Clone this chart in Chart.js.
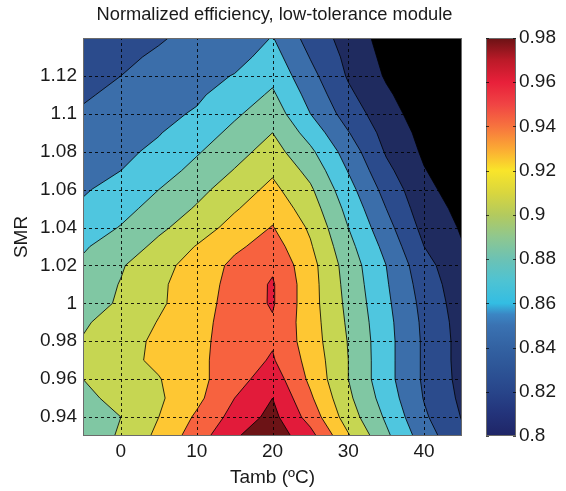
<!DOCTYPE html>
<html>
<head>
<meta charset="utf-8">
<script src="https://cdn.jsdelivr.net/npm/chart.js@4.4.1/dist/chart.umd.min.js"></script>
<style>
  html, body { margin: 0; padding: 0; background: #fff; }
  #wrap { width: 566px; height: 491px; }
</style>
</head>
<body>
<div id="wrap"><canvas id="effChart"></canvas></div>
<script>
// grid of the measurements: Tamb columns, SMR rows
const tambValues = [-5, 0, 5, 10, 15, 20, 25, 30, 35, 40, 45];
const smrValues = [0.93, 0.94, 0.95, 0.96, 0.97, 0.98, 0.99, 1.00, 1.01, 1.02, 1.03,
                   1.04, 1.05, 1.06, 1.07, 1.08, 1.09, 1.10, 1.11, 1.12, 1.13, 1.14];

// normalized efficiency, one row per SMR value (same order as smrValues)
const effRows = [
  [0.890, 0.902, 0.925, 0.950, 0.978, 0.992, 0.967, 0.922, 0.884, 0.850, 0.823], // 0.93
  [0.893, 0.900, 0.920, 0.943, 0.967, 0.986, 0.952, 0.910, 0.877, 0.843, 0.819], // 0.94
  [0.896, 0.905, 0.917, 0.935, 0.960, 0.980, 0.943, 0.904, 0.871, 0.839, 0.816], // 0.95
  [0.900, 0.910, 0.919, 0.934, 0.952, 0.971, 0.936, 0.900, 0.867, 0.837, 0.814], // 0.96
  [0.904, 0.914, 0.924, 0.935, 0.950, 0.962, 0.933, 0.900, 0.867, 0.837, 0.813], // 0.97
  [0.901, 0.912, 0.924, 0.934, 0.950, 0.958, 0.930, 0.899, 0.867, 0.837, 0.813], // 0.98
  [0.898, 0.907, 0.921, 0.933, 0.949, 0.958, 0.929, 0.897, 0.866, 0.836, 0.812], // 0.99
  [0.893, 0.902, 0.917, 0.931, 0.948, 0.962, 0.928, 0.895, 0.864, 0.834, 0.810], // 1.00
  [0.888, 0.901, 0.917, 0.929, 0.947, 0.962, 0.928, 0.893, 0.862, 0.831, 0.808], // 1.01
  [0.883, 0.898, 0.915, 0.926, 0.945, 0.957, 0.927, 0.891, 0.860, 0.827, 0.805], // 1.02
  [0.878, 0.889, 0.905, 0.921, 0.936, 0.949, 0.922, 0.886, 0.854, 0.820, 0.801], // 1.03
  [0.870, 0.881, 0.896, 0.910, 0.927, 0.941, 0.917, 0.880, 0.847, 0.814, 0.798], // 1.04
  [0.863, 0.874, 0.887, 0.902, 0.918, 0.933, 0.910, 0.874, 0.840, 0.809, 0.795], // 1.05
  [0.858, 0.867, 0.880, 0.894, 0.910, 0.925, 0.903, 0.867, 0.833, 0.805, 0.791], // 1.06
  [0.854, 0.860, 0.871, 0.886, 0.901, 0.917, 0.894, 0.859, 0.825, 0.801, 0.787], // 1.07
  [0.850, 0.856, 0.864, 0.878, 0.893, 0.908, 0.884, 0.851, 0.818, 0.797, 0.783], // 1.08
  [0.846, 0.852, 0.859, 0.870, 0.885, 0.900, 0.872, 0.841, 0.813, 0.794, 0.780], // 1.09
  [0.842, 0.848, 0.855, 0.862, 0.877, 0.891, 0.860, 0.831, 0.808, 0.790, 0.777], // 1.10
  [0.838, 0.844, 0.851, 0.857, 0.869, 0.883, 0.853, 0.824, 0.803, 0.787, 0.774], // 1.11
  [0.834, 0.840, 0.847, 0.853, 0.861, 0.875, 0.846, 0.818, 0.798, 0.785, 0.771], // 1.12
  [0.830, 0.836, 0.843, 0.850, 0.853, 0.868, 0.839, 0.815, 0.795, 0.782, 0.768], // 1.13
  [0.826, 0.832, 0.838, 0.846, 0.846, 0.861, 0.832, 0.812, 0.792, 0.780, 0.765]  // 1.14
];

const contourLevels = [0.80, 0.82, 0.84, 0.86, 0.88, 0.90, 0.92, 0.94, 0.96, 0.98];
const xTicks = [0, 10, 20, 30, 40];
const yTicks = [0.94, 0.96, 0.98, 1.00, 1.02, 1.04, 1.06, 1.08, 1.10, 1.12];
const cbTicks = [0.80, 0.82, 0.84, 0.86, 0.88, 0.90, 0.92, 0.94, 0.96, 0.98];

// fill colour below the first level, then one per level
const bandColors = ['#000000', '#1f2b5f', '#2b4b8c', '#3b6eaa', '#4fc6df', '#80c7a3',
                    '#c6d652', '#fec733', '#f7623f', '#e21b3a', '#6c1316'];
const cbStops = [
  [0.80, '#1f2566'], [0.81, '#23337a'], [0.82, '#28458a'], [0.83, '#2d5496'],
  [0.84, '#3362a2'], [0.85, '#3a72b2'], [0.855, '#3b86c4'], [0.86, '#33bde3'],
  [0.87, '#4ec3d3'], [0.88, '#6cc2b4'], [0.89, '#8fc78f'], [0.90, '#b3ca5e'],
  [0.91, '#d9d63e'], [0.92, '#f9e52a'], [0.93, '#fba934'], [0.94, '#f7733e'],
  [0.95, '#f04444'], [0.96, '#e8203a'], [0.97, '#bb1a28'], [0.98, '#6a1214']
];

const FONT = "'Liberation Sans', Arial, sans-serif";
const TEXT = '#1a1a1a';

function fmt(v) {
  return String(+v.toFixed(2));
}

// part of one grid cell where value >= lev (corners walked in order)
function clipCell(pts, vals, lev) {
  const out = [];
  for (let i = 0; i < 4; i++) {
    const j = (i + 1) % 4;
    const a = vals[i] >= lev;
    const b = vals[j] >= lev;
    if (a) out.push({ x: pts[i][0], y: pts[i][1], cross: false });
    if (a !== b) {
      const t = (lev - vals[i]) / (vals[j] - vals[i]);
      out.push({
        x: pts[i][0] + t * (pts[j][0] - pts[i][0]),
        y: pts[i][1] + t * (pts[j][1] - pts[i][1]),
        cross: true
      });
    }
  }
  return out;
}

const contourPlugin = {
  id: 'contourPlugin',
  beforeDatasetsDraw(chart) {
    const { ctx, chartArea: area, scales } = chart;
    const px = tambValues.map(t => scales.x.getPixelForValue(t));
    const py = smrValues.map(s => scales.y.getPixelForValue(s));

    ctx.save();
    ctx.beginPath();
    ctx.rect(area.left, area.top, area.right - area.left, area.bottom - area.top);
    ctx.clip();
    ctx.fillStyle = bandColors[0];
    ctx.fillRect(area.left, area.top, area.right - area.left, area.bottom - area.top);

    const lines = new Path2D();
    contourLevels.forEach((lev, k) => {
      const fill = new Path2D();
      for (let i = 0; i < smrValues.length - 1; i++) {
        for (let j = 0; j < tambValues.length - 1; j++) {
          const pts = [[px[j], py[i]], [px[j + 1], py[i]], [px[j + 1], py[i + 1]], [px[j], py[i + 1]]];
          const vals = [effRows[i][j], effRows[i][j + 1], effRows[i + 1][j + 1], effRows[i + 1][j]];
          const poly = clipCell(pts, vals, lev);
          if (poly.length < 3) continue;
          fill.moveTo(poly[0].x, poly[0].y);
          for (let n = 1; n < poly.length; n++) fill.lineTo(poly[n].x, poly[n].y);
          fill.closePath();
          for (let n = 0; n < poly.length; n++) {
            const p = poly[n], q = poly[(n + 1) % poly.length];
            if (p.cross && q.cross) {
              lines.moveTo(p.x, p.y);
              lines.lineTo(q.x, q.y);
            }
          }
        }
      }
      ctx.fillStyle = bandColors[k + 1];
      ctx.fill(fill);
    });
    ctx.strokeStyle = 'rgba(0,0,0,0.9)';
    ctx.lineWidth = 0.9;
    ctx.stroke(lines);

    // dashed grid on top of the fill
    ctx.strokeStyle = 'rgba(0,0,0,0.85)';
    ctx.lineWidth = 1;
    ctx.setLineDash([3, 3]);
    scales.x.ticks.forEach(t => {
      const x = Math.round(scales.x.getPixelForValue(t.value)) + 0.5;
      ctx.beginPath();
      ctx.moveTo(x, area.bottom);
      ctx.lineTo(x, area.top);
      ctx.stroke();
    });
    scales.y.ticks.forEach(t => {
      const y = Math.round(scales.y.getPixelForValue(t.value)) + 0.5;
      ctx.beginPath();
      ctx.moveTo(area.left, y);
      ctx.lineTo(area.right, y);
      ctx.stroke();
    });
    ctx.restore();

    // axes box
    ctx.save();
    ctx.strokeStyle = '#6b6b6b';
    ctx.lineWidth = 1;
    ctx.strokeRect(area.left + 0.5, area.top + 0.5, area.right - area.left - 1, area.bottom - area.top - 1);
    ctx.restore();

    // colour bar
    const cb = scales.cb;
    const barL = area.right + 24;
    const barW = 30;
    const yTop = cb.getPixelForValue(0.98);
    const yBot = cb.getPixelForValue(0.80);
    const grad = ctx.createLinearGradient(0, yBot, 0, yTop);
    cbStops.forEach(([v, c]) => grad.addColorStop((v - 0.80) / 0.18, c));
    ctx.save();
    ctx.fillStyle = grad;
    ctx.fillRect(barL, yTop, barW, yBot - yTop);
    ctx.strokeStyle = '#6b6b6b';
    ctx.lineWidth = 1;
    ctx.strokeRect(barL + 0.5, yTop + 0.5, barW - 1, yBot - yTop - 1);
    ctx.strokeStyle = 'rgba(0,0,0,0.7)';
    cb.ticks.forEach(t => {
      const y = Math.round(cb.getPixelForValue(t.value)) + 0.5;
      ctx.beginPath();
      ctx.moveTo(barL, y); ctx.lineTo(barL + 3, y);
      ctx.moveTo(barL + barW, y); ctx.lineTo(barL + barW - 3, y);
      ctx.stroke();
    });
    ctx.restore();

    // title
    ctx.save();
    ctx.fillStyle = TEXT;
    ctx.font = '18.3px ' + FONT;
    ctx.textAlign = 'center';
    ctx.textBaseline = 'middle';
    ctx.fillText('Normalized efficiency, low-tolerance module', (area.left + area.right) / 2 + 2, 15);
    ctx.restore();
  }
};

const gridPoints = [];
smrValues.forEach((s, i) => tambValues.forEach((t, j) => gridPoints.push({ x: t, y: s, v: effRows[i][j] })));

new Chart(document.getElementById('effChart'), {
  type: 'scatter',
  data: {
    datasets: [{
      label: 'Normalized efficiency',
      data: gridPoints,
      pointRadius: 0,
      pointHoverRadius: 0
    }]
  },
  options: {
    responsive: true,
    maintainAspectRatio: false,
    animation: false,
    layout: { padding: { top: 38, left: 0, right: 0, bottom: 0 } },
    plugins: {
      legend: { display: false },
      tooltip: { enabled: false }
    },
    scales: {
      x: {
        type: 'linear',
        position: 'bottom',
        min: -5,
        max: 45,
        afterBuildTicks: s => { s.ticks = xTicks.map(v => ({ value: v })); },
        afterFit: s => { s.height = 55; },
        grid: { display: false, drawTicks: false },
        border: { display: false },
        ticks: { color: TEXT, font: { size: 19, family: FONT }, padding: 4, callback: v => fmt(v) },
        title: { display: true, text: 'Tamb (ºC)', color: TEXT, font: { size: 19, family: FONT }, padding: { top: 0, bottom: 2 } }
      },
      y: {
        type: 'linear',
        position: 'left',
        min: 0.93,
        max: 1.14,
        afterBuildTicks: s => { s.ticks = yTicks.map(v => ({ value: v })); },
        afterFit: s => { s.width = 83; },
        grid: { display: false, drawTicks: false },
        border: { display: false },
        ticks: { color: TEXT, font: { size: 19, family: FONT }, padding: 6, callback: v => fmt(v) },
        title: { display: true, text: 'SMR', color: TEXT, font: { size: 19, family: FONT }, padding: { top: 10, bottom: 0 } }
      },
      cb: {
        type: 'linear',
        position: 'right',
        min: 0.80,
        max: 0.98,
        afterBuildTicks: s => { s.ticks = cbTicks.map(v => ({ value: v })); },
        afterFit: s => { s.width = 104; },
        grid: { display: false, drawTicks: true, tickLength: 56 },
        border: { display: false },
        ticks: { color: TEXT, font: { size: 19, family: FONT }, padding: 1, callback: v => fmt(v) }
      }
    }
  },
  plugins: [contourPlugin]
});
</script>
</body>
</html>
